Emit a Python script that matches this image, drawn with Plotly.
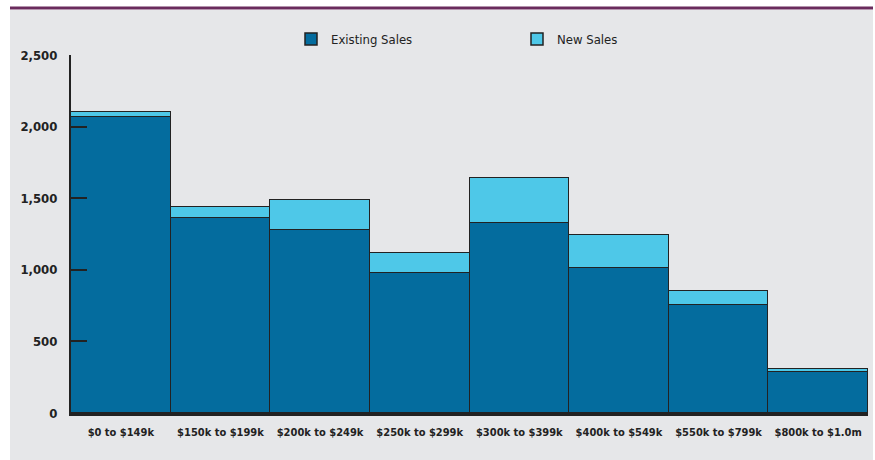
import plotly.graph_objects as go

# Sales by price band
price_bands = ["$0 to $149k", "$150k to $199k", "$200k to $249k", "$250k to $299k",
               "$300k to $399k", "$400k to $549k", "$550k to $799k", "$800k to $1.0m"]
existing_sales = [2065, 1360, 1275, 980, 1325, 1015, 755, 285]
new_sales = [35, 80, 210, 140, 315, 225, 95, 22]
y_ticks = [0, 500, 1000, 1500, 2000, 2500]

EXISTING = "#046c9e"
NEW = "#4ec8e8"
OUTLINE = "#222222"
PANEL = "#e6e7e9"
FONT = "DejaVu Sans Condensed, Roboto, sans-serif"

fig = go.Figure()
fig.add_trace(go.Bar(
    x=price_bands, y=existing_sales, name="Existing Sales", width=1,
    marker=dict(color=EXISTING, line=dict(color=OUTLINE, width=1.5)),
))
fig.add_trace(go.Bar(
    x=price_bands, y=new_sales, name="New Sales", width=1,
    marker=dict(color=NEW, line=dict(color=OUTLINE, width=1.5)),
))

# grey panel and purple rule along the top
PW, PH = 797, 358
fig.add_shape(type="rect", xref="paper", yref="paper", layer="below",
              x0=-61 / PW, x1=(873 - 71) / PW, y0=-47 / PH, y1=(460 - 10 - 47) / PH,
              fillcolor=PANEL, line=dict(width=0))
fig.add_shape(type="line", xref="paper", yref="paper",
              x0=-61 / PW, x1=(873 - 71) / PW, y0=(460 - 8 - 47) / PH, y1=(460 - 8 - 47) / PH,
              line=dict(color="#6a2b5d", width=3))

fig.update_layout(
    width=875, height=460,
    margin=dict(l=71, r=7, t=55, b=47, autoexpand=False),
    paper_bgcolor="white",
    plot_bgcolor="rgba(0,0,0,0)",
    barmode="stack",
    bargap=0,
    font=dict(family=FONT, color="#222222"),
    showlegend=True,
    legend=dict(
        orientation="h",
        x=(291 - 71) / PW, xanchor="left", y=1 + 16 / PH, yanchor="middle",
        entrywidth=181, entrywidthmode="pixels",
        font=dict(family=FONT, size=13, color="#222222"),
        bgcolor="rgba(0,0,0,0)", traceorder="normal",
    ),
    xaxis=dict(
        range=[-0.5, 7.5], showline=True, linewidth=3, linecolor=OUTLINE,
        ticks="", showgrid=False, zeroline=False,
        tickfont=dict(family=FONT, size=11, color="#222222", weight="bold"),
        ticklabelstandoff=7,
    ),
    yaxis=dict(
        range=[0, 2500], tickvals=y_ticks, tickformat=",",
        showline=True, linewidth=2, linecolor=OUTLINE,
        ticks="inside", ticklen=16, tickwidth=2, tickcolor=OUTLINE,
        showgrid=False, zeroline=False,
        tickfont=dict(family=FONT, size=13, color="#222222", weight="bold"),
        ticklabelstandoff=9,
    ),
)

fig.write_html("out.html")
